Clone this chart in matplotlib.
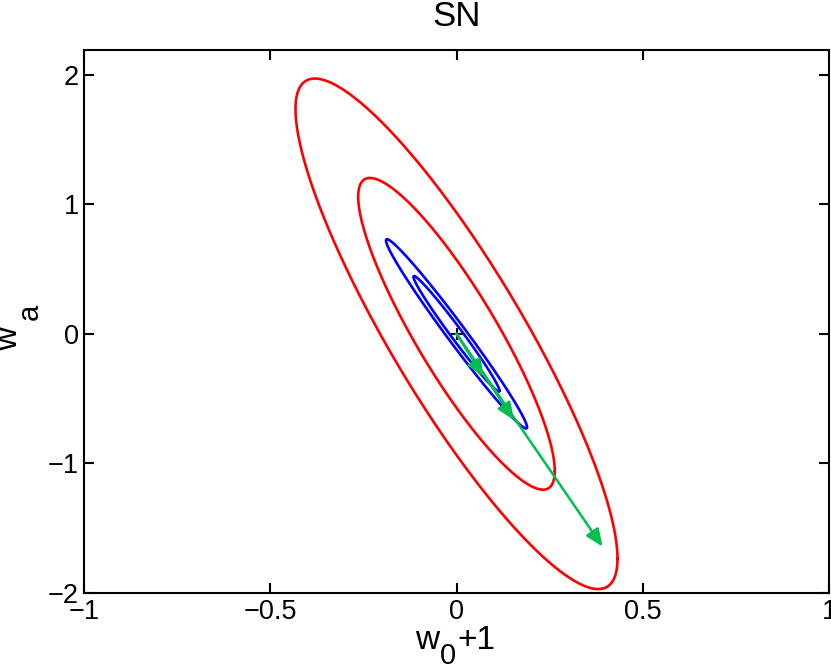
import numpy as np
import matplotlib
matplotlib.use("Agg")
import matplotlib.pyplot as plt

plt.rcParams['font.family'] = ['Liberation Sans', 'DejaVu Sans']

# fitted constraints in (w0+1, wa): sigma_x, sigma_y, correlation
red_sig = [0.174, 0.793, -0.88]
blue_sig = [0.0762, 0.294, -0.986]
# delta chi^2 for 68% and 95% contours
levels = [2.30, 6.17]
center = [0.0, 0.0]
# arrow tips (shifts of the best fit)
arrow_x = [0.073, 0.154, 0.392]
arrow_y = [-0.331, -0.665, -1.642]

xticks = [-1, -0.5, 0, 0.5, 1]
yticks = [-2, -1, 0, 1, 2]
xticklabels = ['\u22121', '\u22120.5', '0', '0.5', '1']
yticklabels = ['\u22122', '\u22121', '0', '1', '2']

W, H = 831, 667


def ellipse(sig, k, n=400):
    sx, sy, rho = sig
    cov = np.array([[sx**2, rho*sx*sy], [rho*sx*sy, sy**2]])
    L = np.linalg.cholesky(cov)
    t = np.linspace(0, 2*np.pi, n)
    pts = L @ np.vstack([np.cos(t), np.sin(t)]) * np.sqrt(k)
    return pts[0] + center[0], pts[1] + center[1]


fig = plt.figure(figsize=(W/100, H/100), dpi=100)
ax = fig.add_axes([84/W, 1-593/H, 745/W, 543/H])

for k in levels:
    ex, ey = ellipse(red_sig, k)
    ax.plot(ex, ey, color='#ff0000', lw=1.9, solid_capstyle='round')
    ex, ey = ellipse(blue_sig, k)
    ax.plot(ex, ey, color='#0000ff', lw=1.9, solid_capstyle='round')

for xt, yt in zip(arrow_x, arrow_y):
    ax.annotate('', xy=(xt, yt), xytext=(center[0], center[1]),
                arrowprops=dict(arrowstyle='-|>,head_length=1.05,head_width=0.45',
                                color='#00bf4f', lw=1.8, shrinkA=0, shrinkB=0))

ax.plot(center[0], center[1], '+', color='k', ms=8, mew=1.5)

ax.set_xlim(-1, 1)
ax.set_ylim(-2, 2.19)
ax.set_xticks(xticks)
ax.set_yticks(yticks)
ax.set_xticklabels(xticklabels)
ax.set_yticklabels(yticklabels)
ax.tick_params(direction='in', length=7, width=1.5, labelsize=19.5,
               top=True, right=True)
ax.tick_params(axis='x', pad=4.5)
ax.tick_params(axis='y', pad=3.5)
for s in ax.spines.values():
    s.set_linewidth(1.5)

ax.set_title('SN', fontsize=25, pad=17)

# axis labels with large subscripts, matlab style
fig.canvas.draw()
r = fig.canvas.get_renderer()


def put(x, y, s, size, rot=0):
    return fig.text(x/W, 1-y/H, s, fontsize=size, rotation=rot,
                    rotation_mode='anchor', ha='left', va='baseline')


tw = put(415, 649, 'w', 24)
x1 = tw.get_window_extent(r).x1
t0 = put(x1 + 1, 664, '0', 21)
x2 = t0.get_window_extent(r).x1
put(x2 + 1, 649, '+1', 24)

ty = put(17, 351, 'w', 24, rot=90)
y1 = H - ty.get_window_extent(r).y1
put(38, y1 - 7, 'a', 21, rot=90)

fig.savefig('out.png', dpi=100)
